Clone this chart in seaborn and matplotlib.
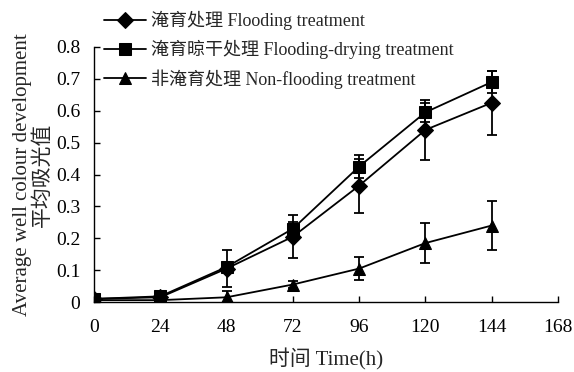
import numpy as np
import pandas as pd
import seaborn as sns
import matplotlib
matplotlib.use("Agg")
import matplotlib.pyplot as plt

# ---- data ----
time_h = [0, 24, 48, 72, 96, 120, 144]
flooding = [0.010, 0.015, 0.105, 0.205, 0.365, 0.540, 0.625]
flooding_err = [0.004, 0.006, 0.058, 0.068, 0.085, 0.095, 0.100]
flood_dry = [0.010, 0.018, 0.110, 0.230, 0.425, 0.595, 0.690]
flood_dry_err = [0.004, 0.006, 0.015, 0.020, 0.037, 0.030, 0.035]
non_flood = [0.006, 0.006, 0.015, 0.055, 0.105, 0.185, 0.240]
non_flood_err = [0.003, 0.003, 0.020, 0.012, 0.035, 0.063, 0.078]

labels = ["淹育处理 Flooding treatment",
          "淹育晾干处理 Flooding-drying treatment",
          "非淹育处理 Non-flooding treatment"]
markers = ["D", "s", "^"]
x_ticks = [0, 24, 48, 72, 96, 120, 144, 168]
y_ticks = [0, 0.1, 0.2, 0.3, 0.4, 0.5, 0.6, 0.7, 0.8]
y_tick_labels = ["0", "0.1", "0.2", "0.3", "0.4", "0.5", "0.6", "0.7", "0.8"]

sns.set_style("ticks")
plt.rcParams["font.family"] = ["Liberation Serif", "Noto Sans CJK SC"]

df = pd.DataFrame({
    "Time": time_h * 3,
    "Value": flooding + flood_dry + non_flood,
    "Series": [labels[0]] * 7 + [labels[1]] * 7 + [labels[2]] * 7,
})

fig = plt.figure(figsize=(5.74, 3.72), dpi=100)
ax = fig.add_axes([0.1638, 0.188, 0.972 - 0.1638, 0.8737 - 0.188])

sns.lineplot(data=df, x="Time", y="Value", hue="Series", style="Series",
             markers=dict(zip(labels, markers)), dashes=False,
             palette=["black"] * 3, markersize=8, linewidth=1.3,
             markeredgecolor="black", ax=ax, legend=True)

for vals, errs in [(flooding, flooding_err), (flood_dry, flood_dry_err), (non_flood, non_flood_err)]:
    ax.errorbar(time_h, vals, yerr=errs, fmt="none", ecolor="black",
                elinewidth=1.3, capsize=3.5, capthick=1.3)

ax.set_xlim(0, 168)
ax.set_ylim(0, 0.8)
ax.set_xticks(x_ticks)
ax.set_yticks(y_ticks)
ax.set_yticklabels(y_tick_labels)
ax.tick_params(direction="in", labelsize=14, length=4, width=1, colors="black")
ax.tick_params(axis="x", pad=12)
ax.tick_params(axis="y", pad=10)
sns.despine(ax=ax)
for s in ["left", "bottom"]:
    ax.spines[s].set_linewidth(1.0)
    ax.spines[s].set_color("black")

ax.set_xlabel("时间 Time(h)", fontsize=15, labelpad=9)
ax.set_ylabel("Average well colour development\n平均吸光值", fontsize=15,
              labelpad=2, linespacing=1.1)

handles, lbls = ax.get_legend_handles_labels()
ax.get_legend().remove()
fig.legend(handles, lbls, loc="upper left", bbox_to_anchor=(0.163, 1.0),
           frameon=False, fontsize=13, handlelength=2.3, handletextpad=0.3,
           labelspacing=0.55, borderaxespad=0.2)

fig.savefig("out.png", dpi=100)
